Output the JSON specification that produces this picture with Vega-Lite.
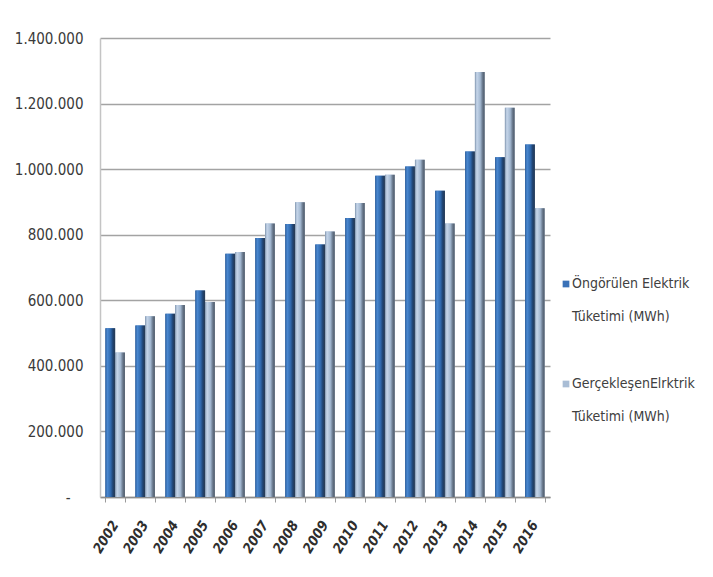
{
  "$schema": "https://vega.github.io/schema/vega-lite/v6.json",
  "width": 450,
  "height": 459,
  "autosize": {"type": "none"},
  "padding": {"left": 100, "top": 38, "right": 163, "bottom": 80},
  "background": "white",
  "config": {
    "locale": {"number": {"decimal": ",", "thousands": ".", "grouping": [3], "currency": ["", " TL"]}},
    "view": {"stroke": null},
    "font": "DejaVu Sans Condensed, Liberation Sans, sans-serif",
    "style": {"guide-label": {"lineHeight": 33}}
  },
  "data": {
    "values": [
      {"year": "2002", "series": "Öngörülen Elektrik Tüketimi (MWh)", "value": 515000},
      {"year": "2002", "series": "GerçekleşenElrktrik Tüketimi (MWh)", "value": 441000},
      {"year": "2003", "series": "Öngörülen Elektrik Tüketimi (MWh)", "value": 523000},
      {"year": "2003", "series": "GerçekleşenElrktrik Tüketimi (MWh)", "value": 551000},
      {"year": "2004", "series": "Öngörülen Elektrik Tüketimi (MWh)", "value": 559000},
      {"year": "2004", "series": "GerçekleşenElrktrik Tüketimi (MWh)", "value": 586000},
      {"year": "2005", "series": "Öngörülen Elektrik Tüketimi (MWh)", "value": 630000},
      {"year": "2005", "series": "GerçekleşenElrktrik Tüketimi (MWh)", "value": 595000},
      {"year": "2006", "series": "Öngörülen Elektrik Tüketimi (MWh)", "value": 742000},
      {"year": "2006", "series": "GerçekleşenElrktrik Tüketimi (MWh)", "value": 747000},
      {"year": "2007", "series": "Öngörülen Elektrik Tüketimi (MWh)", "value": 790000},
      {"year": "2007", "series": "GerçekleşenElrktrik Tüketimi (MWh)", "value": 834000},
      {"year": "2008", "series": "Öngörülen Elektrik Tüketimi (MWh)", "value": 833000},
      {"year": "2008", "series": "GerçekleşenElrktrik Tüketimi (MWh)", "value": 899000},
      {"year": "2009", "series": "Öngörülen Elektrik Tüketimi (MWh)", "value": 770000},
      {"year": "2009", "series": "GerçekleşenElrktrik Tüketimi (MWh)", "value": 810000},
      {"year": "2010", "series": "Öngörülen Elektrik Tüketimi (MWh)", "value": 851000},
      {"year": "2010", "series": "GerçekleşenElrktrik Tüketimi (MWh)", "value": 897000},
      {"year": "2011", "series": "Öngörülen Elektrik Tüketimi (MWh)", "value": 980000},
      {"year": "2011", "series": "GerçekleşenElrktrik Tüketimi (MWh)", "value": 983000},
      {"year": "2012", "series": "Öngörülen Elektrik Tüketimi (MWh)", "value": 1008000},
      {"year": "2012", "series": "GerçekleşenElrktrik Tüketimi (MWh)", "value": 1029000},
      {"year": "2013", "series": "Öngörülen Elektrik Tüketimi (MWh)", "value": 934000},
      {"year": "2013", "series": "GerçekleşenElrktrik Tüketimi (MWh)", "value": 834000},
      {"year": "2014", "series": "Öngörülen Elektrik Tüketimi (MWh)", "value": 1054000},
      {"year": "2014", "series": "GerçekleşenElrktrik Tüketimi (MWh)", "value": 1296000},
      {"year": "2015", "series": "Öngörülen Elektrik Tüketimi (MWh)", "value": 1036000},
      {"year": "2015", "series": "GerçekleşenElrktrik Tüketimi (MWh)", "value": 1187000},
      {"year": "2016", "series": "Öngörülen Elektrik Tüketimi (MWh)", "value": 1075000},
      {"year": "2016", "series": "GerçekleşenElrktrik Tüketimi (MWh)", "value": 881000}
    ]
  },
  "encoding": {
    "x": {
      "field": "year",
      "type": "ordinal",
      "scale": {"paddingInner": 0.35, "paddingOuter": 0.18},
      "axis": {
        "title": null,
        "labelAngle": -58,
        "labelAlign": "right",
        "labelBaseline": "middle",
        "labelFontSize": 14,
        "labelFontStyle": "italic",
        "labelFontWeight": "bold",
        "labelColor": "#2e2e2e",
        "labelPadding": 20,
        "ticks": true,
        "tickBand": "extent",
        "tickSize": 5,
        "tickColor": "#9a9a9a",
        "domainColor": "#8c8c8c",
        "domainWidth": 1.5,
        "grid": false
      }
    },
    "xOffset": {
      "field": "series",
      "type": "nominal",
      "scale": {"domain": ["Öngörülen Elektrik Tüketimi (MWh)", "GerçekleşenElrktrik Tüketimi (MWh)"]}
    },
    "y": {
      "field": "value",
      "type": "quantitative",
      "scale": {"domain": [0, 1400000]},
      "axis": {
        "title": null,
        "values": [0, 200000, 400000, 600000, 800000, 1000000, 1200000, 1400000],
        "format": ",.0f",
        "labelExpr": "datum.value == 0 ? '-' : datum.label",
        "labelFontSize": 15,
        "labelColor": "#3a3a3a",
        "labelPadding": {"condition": {"test": "datum.value == 0", "value": 30}, "value": 17},
        "ticks": false,
        "domain": true,
        "domainColor": "#c4c4c4",
        "domainWidth": 1.5,
        "grid": true,
        "gridColor": "#a3a3a3",
        "gridWidth": 1.5
      }
    }
  },
  "layer": [
    {
      "mark": {"type": "bar"},
      "encoding": {
        "color": {
          "field": "series",
          "type": "nominal",
          "scale": {
            "domain": ["Öngörülen Elektrik Tüketimi (MWh)", "GerçekleşenElrktrik Tüketimi (MWh)"],
            "range": ["#3a72b8", "#a9bdd5"]
          },
          "legend": {
            "title": null,
            "orient": "none",
            "legendX": 459,
            "legendY": 239,
            "symbolType": "square",
            "symbolSize": 45,
            "symbolStrokeWidth": 0,
            "labelFontSize": 14,
            "labelColor": "#404040",
            "labelOffset": -1,
            "labelLimit": 200,
            "rowPadding": 53,
            "labelExpr": "datum.value == 'Öngörülen Elektrik Tüketimi (MWh)' ? ['Öngörülen Elektrik', 'Tüketimi (MWh)'] : ['GerçekleşenElrktrik', 'Tüketimi (MWh)']"
          }
        }
      }
    },
    {
      "mark": {"type": "bar"},
      "encoding": {
        "fill": {
          "condition": {
            "test": "datum.series == 'Öngörülen Elektrik Tüketimi (MWh)'",
            "value": {
              "gradient": "linear", "x1": 0, "x2": 1, "y1": 0, "y2": 0,
              "stops": [
                {"offset": 0, "color": "#2c5d9a"},
                {"offset": 0.2, "color": "#4a88d0"},
                {"offset": 0.55, "color": "#2f68ad"},
                {"offset": 0.78, "color": "#1f426f"},
                {"offset": 1, "color": "#2a3b52"}
              ]
            }
          },
          "value": {
            "gradient": "linear", "x1": 0, "x2": 1, "y1": 0, "y2": 0,
            "stops": [
              {"offset": 0, "color": "#7f94ad"},
              {"offset": 0.2, "color": "#c6d6ea"},
              {"offset": 0.55, "color": "#a3b8d1"},
              {"offset": 0.78, "color": "#6b7b8f"},
              {"offset": 1, "color": "#4a5563"}
            ]
          }
        }
      }
    }
  ]
}
